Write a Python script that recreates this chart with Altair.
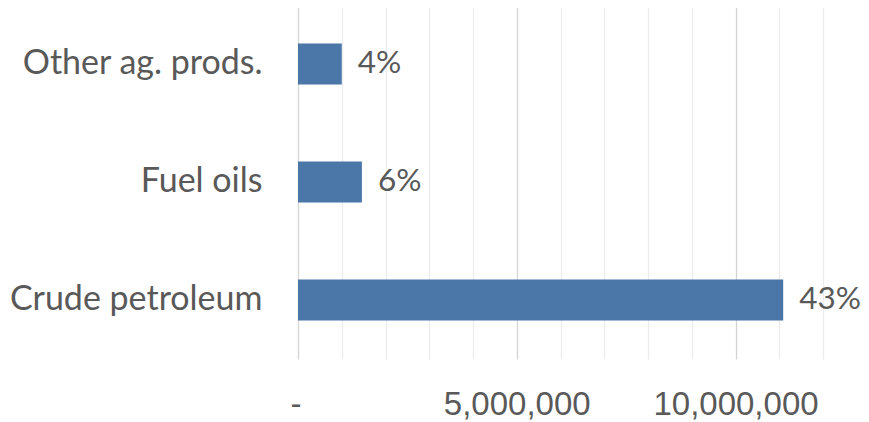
import altair as alt
import pandas as pd

categories = ["Other ag. prods.", "Fuel oils", "Crude petroleum"]
values = [1000000, 1460000, 11090000]
pct_labels = ["4%", "6%", "43%"]

df = pd.DataFrame({"cat": categories, "val": values, "pct": pct_labels})

grid_values = list(range(0, 12000001, 1000000))

x_enc = alt.X(
    "val:Q",
    scale=alt.Scale(domain=[0, 12000000], nice=False),
    axis=alt.Axis(
        values=grid_values,
        title=None,
        domain=False,
        ticks=False,
        grid=True,
        gridColor=alt.condition("datum.value % 5000000 == 0", alt.value("#d4d4d4"), alt.value("#ececec")),
        gridWidth=1.3,
        labelExpr="datum.value == 0 ? '-' : (datum.value % 5000000 == 0 ? format(datum.value, ',') : '')",
        labelFont="Liberation Sans",
        labelFontSize=33,
        labelColor="#595959",
        labelPadding=29,
        labelOffset=alt.condition("datum.value == 0", alt.value(-8), alt.value(0)),
    ),
)

y_enc = alt.Y(
    "cat:N",
    sort=categories,
    scale=alt.Scale(paddingInner=0.653, paddingOuter=0.326),
    axis=alt.Axis(
        title=None,
        domain=False,
        ticks=False,
        labelFont="Lato",
        labelFontSize=34,
        labelColor="#595959",
        labelPadding=36,
        labelLimit=400,
    ),
)

bars = alt.Chart(df).mark_bar(color="#4A76A8").encode(x=x_enc, y=y_enc)

text = alt.Chart(df).mark_text(
    align="left", baseline="middle", dx=16, font="Lato", fontSize=31.5, color="#595959"
).encode(x="val:Q", y=alt.Y("cat:N", sort=categories), text="pct:N")

chart = (
    alt.layer(bars, text)
    .properties(
        width=525,
        height=354,
        autosize=alt.AutoSizeParams(type="none"),
        padding={"left": 290, "top": -3, "right": 38, "bottom": 62},
    )
    .configure_view(stroke=None)
)

chart.save("out.html", embed_options={"renderer": "svg", "actions": False})
